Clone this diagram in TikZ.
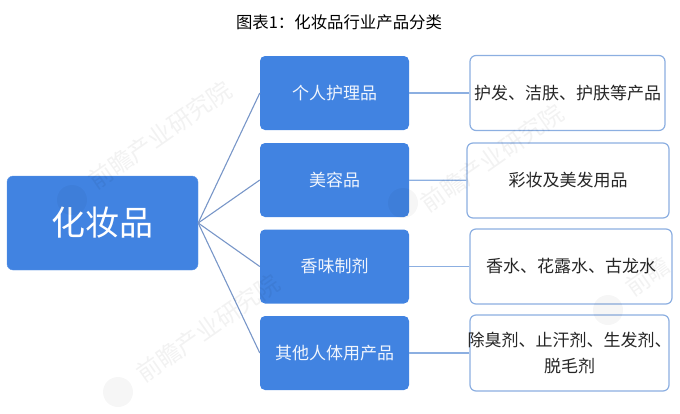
\documentclass[tikz,border=0pt]{standalone}
\usepackage{fontspec}
\setmainfont{Noto Sans CJK SC}
\tikzset{
    rootbox/.style = {rectangle, rounded corners=6pt, fill=boxblue, draw=boxblue!85!white,
        text=white, font=\fontsize{34}{38}\selectfont,
        minimum height=94pt, minimum width=191pt},
    midbox/.style = {rectangle, rounded corners=5pt, fill=boxblue,
        text=white!92!boxblue, font=\fontsize{17}{20}\selectfont,
        minimum height=74pt, minimum width=149pt},
    leafbox/.style = {rectangle, rounded corners=6pt, draw=linkblue, line width=1.2pt, fill=white,
        text=black!85, align=center, inner sep=0pt, font=\fontsize{17}{26}\selectfont,
        minimum height=75pt},
    link/.style = {draw=linkblue, line width=1.2pt},
    rootlink/.style = {draw=rootblue, line width=1.1pt},
    wmark/.style = {opacity=.05, rotate=35, font=\fontsize{24}{26}\selectfont},
    wlogo/.style = {fill=black, opacity=.035, circle, minimum size=30pt, inner sep=0pt}
}
\definecolor{boxblue}{RGB}{65,131,225}
\definecolor{linkblue}{RGB}{140,175,225}
\definecolor{rootblue}{RGB}{120,150,200}
\begin{document}
\begin{tikzpicture}[x=1pt,y=-1pt]
    \useasboundingbox (0,0) rectangle (680,413);
    \node (title) at (339,22) {\fontsize{16.4}{18}\selectfont 图表1：化妆品行业产品分类};
    % second column
    \node[rootbox] (cosmetics) at (102.5,223) {化妆品};
    \node[midbox] (care) at (334.5,93) {个人护理品};
    \node[midbox] (beauty) at (334.5,180) {美容品};
    \node[midbox] (scent) at (334.5,266.5) {香味制剂};
    \node[midbox] (other) at (334.5,353) {其他人体用产品};
    % third column
    \node[leafbox,minimum width=195pt] (careitems) at (567.5,93) {护发、洁肤、护肤等产品};
    \node[leafbox,minimum width=202pt] (beautyitems) at (568,180.5) {彩妆及美发用品};
    \node[leafbox,minimum width=202pt] (scentitems) at (571,266.5) {香水、花露水、古龙水};
    \node[leafbox,minimum width=199pt,minimum height=76pt] (otheritems) at (569.5,353) {\makebox[190pt]{除臭剂、止汗剂、生发剂、}\\脱毛剂};
    \draw[rootlink] (cosmetics.east) -- (care.west);
    \draw[rootlink] (cosmetics.east) -- (beauty.west);
    \draw[rootlink] (cosmetics.east) -- (scent.west);
    \draw[rootlink] (cosmetics.east) -- (other.west);
    \draw[link] (care) -- (careitems);
    \draw[link] (beauty) -- (beautyitems);
    \draw[link] (scent) -- (scentitems);
    \draw[link] (other) -- (otheritems);
    % watermarks
    \node[wmark] (mark1) at (160,135) {前瞻产业研究院};
    \node[wmark] (mark2) at (208,328) {前瞻产业研究院};
    \node[wmark] (mark3) at (492,158) {前瞻产业研究院};
    \node[wmark,anchor=west] (mark4) at (625,292) {前瞻};
    \node[wlogo] (logo1) at (118,392) {};
    \node[wlogo] (logo2) at (403,203) {};
    \node[wlogo] (logo3) at (608,310) {};
    \node[wlogo] (logo4) at (72,200) {};
\end{tikzpicture}
\end{document}
